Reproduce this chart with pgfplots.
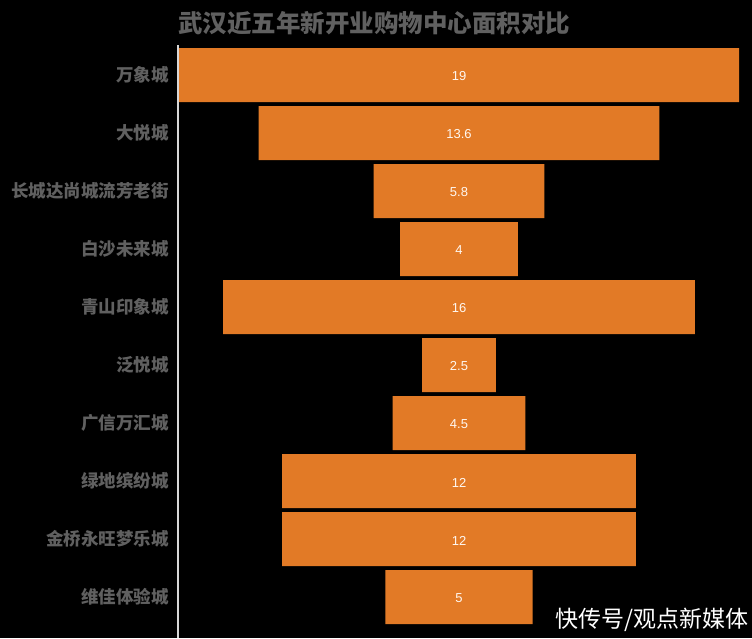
\documentclass[border=0pt]{standalone}
\usepackage{pgfplots}
\pgfplotsset{compat=1.18}
\usepackage{pgfplotstable}
\usepackage{fontspec}
\setmainfont{Liberation Sans}
\newfontfamily\cjk{Noto Sans CJK SC}
\definecolor{barorange}{RGB}{226,122,38}
\definecolor{labelgray}{RGB}{96,96,96}
\definecolor{axisgray}{RGB}{215,215,215}
\pgfplotstableread{
y v
0 19
1 13.6
2 5.8
3 4
4 16
5 2.5
6 4.5
7 12
8 12
9 5
}\areadata
\begin{document}
\begin{tikzpicture}
\fill[black] (0,0) rectangle (752pt,638pt);
\useasboundingbox (0,0) rectangle (752pt,638pt);
\begin{axis}[
  at={(179pt,12pt)}, anchor=south west,
  scale only axis, width=560pt, height=580pt,
  xmin=-9.5, xmax=9.5, ymin=-0.5, ymax=9.5, y dir=reverse,
  axis line style={draw=none},
  xtick=\empty,
  ytick={0,...,9},
  yticklabels={万象城,大悦城,长城达尚城流芳老街,白沙未来城,青山印象城,泛悦城,广信万汇城,绿地缤纷城,金桥永旺梦乐城,维佳体验城},
  major tick length=0pt,
  yticklabel style={font=\cjk\bfseries\fontsize{17.5}{20}\selectfont, text=labelgray, anchor=east, inner sep=0pt, xshift=-10pt},
  clip=false,
]
\addplot[xbar, bar width=54pt, bar shift=0pt, fill=barorange, draw=none] table[x expr=\thisrow{v}/2, y=y] {\areadata};
\addplot[xbar, bar width=54pt, bar shift=0pt, fill=barorange, draw=none] table[x expr=-\thisrow{v}/2, y=y] {\areadata};
\addplot[draw=none, mark=none, nodes near coords, point meta=explicit,
  every node near coord/.style={anchor=center, yshift=-1.5pt, font=\fontsize{13}{15}\selectfont, text=white!94!orange, /pgf/number format/assume math mode=true}]
  table[x expr=0, y=y, meta=v] {\areadata};
\end{axis}
\draw[axisgray, line width=2pt] (178pt,0pt) -- (178pt,593pt);
\node[font=\cjk\bfseries\fontsize{24.5}{28}\selectfont, text=labelgray] at (374pt,615pt) {武汉近五年新开业购物中心面积对比};
\node[font=\cjk\fontsize{23}{26}\selectfont, text=white, anchor=east, inner sep=0pt] at (749pt,18pt) {快传号/观点新媒体};
\end{tikzpicture}
\end{document}
